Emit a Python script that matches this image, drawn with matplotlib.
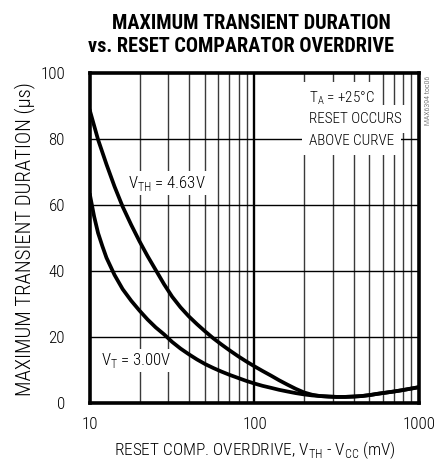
import matplotlib
matplotlib.use('Agg')
import matplotlib.pyplot as plt
from matplotlib import font_manager as fm
from matplotlib.ticker import FixedLocator, NullFormatter


def pick_font(cands, default='DejaVu Sans'):
    for c in cands:
        try:
            fm.findfont(fm.FontProperties(family=c), fallback_to_default=False)
            return c
        except ValueError:
            pass
    return default


NARROW = pick_font(['Liberation Sans Narrow', 'Roboto Condensed', 'Open Sans Condensed',
                    'DejaVu Sans Condensed', 'Noto Sans Condensed', 'Roboto'])
plt.rcParams['font.family'] = [NARROW, 'DejaVu Sans']
plt.rcParams['font.weight'] = 'light'
plt.rcParams['mathtext.fontset'] = 'custom'
plt.rcParams['mathtext.rm'] = NARROW + ':light'

# curves: overdrive (mV) -> max transient duration (us)
vth_x = [10, 11.2, 12.6, 14.1, 15.8, 17.8, 20, 22.4, 25.1, 28.2, 31.6, 35.5, 39.8,
         44.7, 50.1, 56.2, 63.1, 70.8, 79.4, 89.1, 100, 112, 126, 141, 158, 178,
         200, 224, 251, 282, 316, 355, 398, 447, 501, 562, 631, 708, 794, 891, 1000]
vth_y = [88.5, 79.8, 72.3, 65.6, 59.5, 54.0, 49.0, 44.5, 40.3, 36.0, 32.2, 29.0, 26.3,
         23.9, 21.7, 19.6, 17.7, 15.9, 14.2, 12.6, 11.1, 9.7, 8.3, 6.9, 5.6, 4.3,
         3.2, 2.5, 2.1, 1.95, 1.85, 1.85, 1.95, 2.1, 2.4, 2.8, 3.15, 3.5, 3.9, 4.35, 4.8]

vt_x = [10, 10.6, 11.2, 11.9, 12.6, 14.1, 15.8, 17.8, 20, 22.4, 25.1, 28.2, 31.6,
        35.5, 39.8, 44.7, 50.1, 56.2, 63.1, 70.8, 79.4, 89.1, 100, 112, 126, 141,
        158, 178, 200, 224, 251, 282, 316, 355, 398, 447, 501, 562, 631, 708, 794,
        891, 1000]
vt_y = [63, 56.5, 51.5, 47.5, 44, 38.8, 34.5, 31, 28, 25.3, 22.9, 20.8, 18.5,
        16.5, 14.8, 13.2, 11.8, 10.6, 9.5, 8.5, 7.6, 6.7, 5.9, 5.2, 4.6, 4.0,
        3.5, 3.0, 2.6, 2.3, 2.1, 1.95, 1.85, 1.85, 1.95, 2.1, 2.4, 2.8, 3.15, 3.5,
        3.9, 4.35, 4.8]

x_ticks = [10, 100, 1000]
x_ticklabels = ['10', '100', '1000']
y_ticks = [0, 20, 40, 60, 80, 100]
minor_x = [20, 30, 40, 50, 60, 70, 80, 90, 200, 300, 400, 500, 600, 700, 800, 900]
note_lines = ['T$_{\\mathrm{A}}$ = +25°C', 'RESET OCCURS', 'ABOVE CURVE']
note_y = [91.2, 84.8, 78.2]

fig = plt.figure(figsize=(4.45, 4.62), dpi=100)
ax = fig.add_axes([0.2022, 0.1277, 0.7394, 0.7143])
renderer = fig.canvas.get_renderer()


def fit(t, target, use_height=False):
    # scale a text so its drawn width (or height) matches the picture
    bb = t.get_window_extent(renderer)
    cur = bb.height if use_height else bb.width
    t.set_fontsize(t.get_fontsize() * target / cur)
    return t.get_fontsize()


ax.set_xscale('log')
ax.set_xlim(10, 1000)
ax.set_ylim(0, 100)

# grid
for xv in minor_x:
    ax.axvline(xv, color='#3a3a3a', lw=1.0, zorder=1)
ax.axvline(100, color='black', lw=1.7, zorder=1)
for yv in y_ticks[1:-1]:
    ax.axhline(yv, color='black', lw=1.0, zorder=1)

ax.plot(vth_x, vth_y, color='black', lw=2.7, zorder=3)
ax.plot(vt_x, vt_y, color='black', lw=2.7, zorder=3)

box = dict(facecolor='white', edgecolor='none', pad=1.5)
t1 = ax.text(29.4, 65.2, r'V$_{\mathrm{TH}}$ = 4.63V', fontsize=11, ha='center',
             va='baseline', bbox=box, zorder=2)
fs = fit(t1, 78)
ax.text(19.0, 11.5, r'V$_{\mathrm{T}}$ = 3.00V', fontsize=fs, ha='center', va='baseline',
        bbox=box, zorder=2)

notes = []
for line, yv in zip(note_lines, note_y):
    notes.append(ax.text(213.6, yv, line, fontsize=11, ha='left', va='baseline',
                         bbox=dict(facecolor='white', edgecolor='none', pad=5), zorder=2))
nfs = fit(notes[1], 93)
for n in notes:
    n.set_fontsize(nfs)

ax.xaxis.set_major_locator(FixedLocator(x_ticks))
ax.set_xticklabels(x_ticklabels)
ax.xaxis.set_minor_formatter(NullFormatter())
ax.set_yticks(y_ticks)
ax.tick_params(which='both', length=0)

probe = fig.text(0, 0, '100', fontsize=11)
tfs = fit(probe, 24.5)
probe.remove()
ax.tick_params(labelsize=tfs)
ax.tick_params(axis='x', pad=10)
ax.tick_params(axis='y', pad=18)

for s in ax.spines.values():
    s.set_linewidth(2.6)
    s.set_zorder(4)

xl = fig.text(254.5 / 445, 1 - 450 / 462,
              r'RESET COMP. OVERDRIVE, V$_{\mathrm{TH}}$ - V$_{\mathrm{CC}}$ (mV)',
              fontsize=11, ha='center', va='center')
fit(xl, 282)
yl = fig.text(25 / 445, 1 - 239 / 462, 'MAXIMUM TRANSIENT DURATION (µs)', fontsize=11,
              rotation=90, ha='center', va='center')
fit(yl, 312, use_height=True)

title1 = fig.text(251.5 / 445, 1 - 23.5 / 462, 'MAXIMUM TRANSIENT DURATION',
                  ha='center', va='center', fontsize=16, fontweight='black')
title2 = fig.text(240.5 / 445, 1 - 46.5 / 462, 'vs. RESET COMPARATOR OVERDRIVE',
                  ha='center', va='center', fontsize=16, fontweight='black')
fit(title2, 306)
title1.set_fontsize(title2.get_fontsize())

side = fig.text(428 / 445, 1 - 100 / 462, 'MAX6394 toc06', rotation=90, fontsize=6,
                ha='center', va='center', color='#444444')
fit(side, 50, use_height=True)

fig.savefig('out.png', dpi=100)
